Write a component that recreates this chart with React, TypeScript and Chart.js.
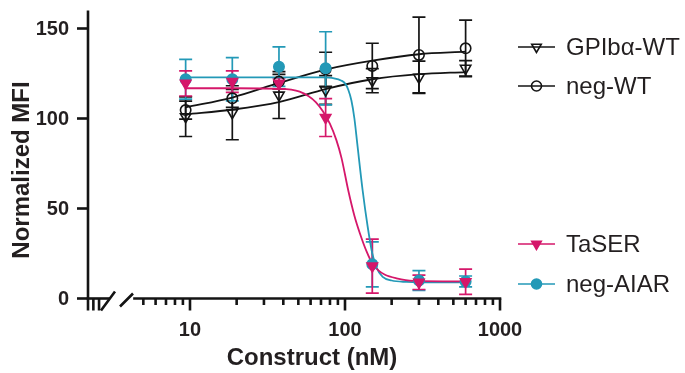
import { useEffect, useRef } from "react";
import { Chart, registerables } from "chart.js";

Chart.register(...registerables);

// ---- data ----
const concentrations = [9.375, 18.75, 37.5, 75, 150, 300, 600];
const seriesNames = ["GPIbα-WT", "neg-WT", "TaSER", "neg-AIAR"];

const gpibaMean = [101, 103.2, 113, 115.8, 121, 122.9, 127.9];
const gpibaSD = [11, 15, 13, 8, 6.7, 9, 4.3];
const negWTMean = [104.7, 111.2, 120.5, 127.3, 129.2, 135.3, 139];
const negWTSD = [5, 5, 4, 9.5, 12.6, 21, 15.7];
const taserMean = [119.5, 120.5, 119.5, 100.5, 18, 9, 9.3];
const taserSD = [7, 6, 3, 10.5, 15, 4, 7];
const aiarMean = [121.8, 121.8, 128.8, 127.9, 19, 10, 9.5];
const aiarSD = [11, 12, 11, 20.3, 12.5, 5.5, 3];

// fitted curves
const gpibaCurveX = [9.375, 19, 38, 76, 150, 300, 600];
const gpibaCurveY = [102.3, 105, 109.3, 116.5, 121.8, 124.6, 125.8];
const negWTCurveX = [9.375, 19, 38, 76, 150, 300, 600];
const negWTCurveY = [106.2, 111.8, 119.9, 127.3, 132.1, 135.7, 137.1];
const taserCurveX = [9.375, 20, 38, 45, 51, 58, 65, 72, 80, 88, 95, 105, 115, 125, 138, 150, 165, 180, 215, 275, 600];
const taserCurveY = [116.8, 116.8, 116.5, 116, 114.9, 112.5, 109, 104, 97, 88, 78, 60, 46, 36, 26, 19.5, 15.5, 13.3, 11.2, 9.8, 9.5];
const aiarCurveX = [9.375, 20, 40, 70, 85, 95, 100, 105, 110, 115, 120, 130, 140, 150, 160, 175, 200, 250, 300, 600];
const aiarCurveY = [122.9, 122.9, 122.9, 122.8, 122.3, 121, 119.5, 116, 110, 100, 86, 60, 40, 25, 17, 12, 10, 9.2, 9, 9];

// axis ticks
const yTicks = [0, 50, 100, 150];
const xMajorTicks = [10, 100, 1000];
const xMinorTicks = [5, 6, 7, 8, 9, 20, 30, 40, 50, 60, 70, 80, 90, 200, 300, 400, 500, 600, 700, 800, 900];
const xBreakTicks = [2.198, 2.38, 2.59];
const xMin = 2.198;
const xMax = 1000;
const yMin = 0;
const yMax = 160;

const BLACK = "#141414";
const PINK = "#D5176A";
const CYAN = "#2399B7";
const TEXT = "#231F20";
const FONT = '"Liberation Sans", Arial, Helvetica, sans-serif';

const toXY = (xs: number[], ys: number[]) => xs.map((x, i) => ({ x, y: ys[i] }));

type Series = { name: string; mean: number[]; sd: number[]; color: string; style: "triangle" | "circle"; filled: boolean };
const seriesList: Series[] = [
  { name: seriesNames[0], mean: gpibaMean, sd: gpibaSD, color: BLACK, style: "triangle", filled: false },
  { name: seriesNames[1], mean: negWTMean, sd: negWTSD, color: BLACK, style: "circle", filled: false },
  { name: seriesNames[2], mean: taserMean, sd: taserSD, color: PINK, style: "triangle", filled: true },
  { name: seriesNames[3], mean: aiarMean, sd: aiarSD, color: CYAN, style: "circle", filled: true },
];

function drawMarker(ctx: CanvasRenderingContext2D, s: Series, x: number, y: number) {
  ctx.save();
  ctx.beginPath();
  if (s.style === "triangle") {
    const r = 5.5;
    ctx.moveTo(x, y + r);
    ctx.lineTo(x - r * 0.866, y - r * 0.5);
    ctx.lineTo(x + r * 0.866, y - r * 0.5);
    ctx.closePath();
  } else {
    ctx.arc(x, y, 5, 0, Math.PI * 2);
  }
  ctx.lineWidth = 1.6;
  ctx.strokeStyle = s.color;
  if (s.filled) {
    ctx.fillStyle = s.color;
    ctx.fill();
  }
  ctx.stroke();
  ctx.restore();
}

const prismPlugin = {
  id: "prismAxes",
  beforeDatasetsDraw(chart: any) {
    const ctx: CanvasRenderingContext2D = chart.ctx;
    const xs = chart.scales.x;
    const ys = chart.scales.y;
    ctx.save();
    ctx.lineWidth = 1.7;
    const order = [0, 1, 3, 2];
    for (const k of order) {
      const s = seriesList[k];
      ctx.strokeStyle = s.color;
      concentrations.forEach((c, i) => {
        const px = xs.getPixelForValue(c);
        const top = ys.getPixelForValue(s.mean[i] + s.sd[i]);
        const bot = ys.getPixelForValue(s.mean[i] - s.sd[i]);
        ctx.beginPath();
        ctx.moveTo(px, top);
        ctx.lineTo(px, bot);
        ctx.moveTo(px - 6.5, top);
        ctx.lineTo(px + 6.5, top);
        ctx.moveTo(px - 6.5, bot);
        ctx.lineTo(px + 6.5, bot);
        ctx.stroke();
      });
    }
    ctx.restore();
  },
  afterDraw(chart: any) {
    const ctx: CanvasRenderingContext2D = chart.ctx;
    const xs = chart.scales.x;
    const ys = chart.scales.y;
    const area = chart.chartArea;
    const left = area.left;
    const bottom = area.bottom;
    ctx.save();
    ctx.strokeStyle = BLACK;
    ctx.lineWidth = 2.6;
    ctx.lineCap = "butt";

    // y axis line
    ctx.beginPath();
    ctx.moveTo(left, area.top);
    ctx.lineTo(left, bottom);
    ctx.stroke();
    // y ticks
    yTicks.forEach((t) => {
      const py = ys.getPixelForValue(t);
      ctx.beginPath();
      ctx.moveTo(left - 11, py);
      ctx.lineTo(left, py);
      ctx.stroke();
    });
    // x axis: left segment
    ctx.beginPath();
    ctx.moveTo(left - 1.3, bottom);
    ctx.lineTo(left + 22, bottom);
    ctx.stroke();
    xBreakTicks.forEach((t) => {
      const px = xs.getPixelForValue(t);
      ctx.beginPath();
      ctx.moveTo(px, bottom);
      ctx.lineTo(px, bottom + 12);
      ctx.stroke();
    });
    // break slashes
    ctx.beginPath();
    ctx.moveTo(left + 13, bottom + 12);
    ctx.lineTo(left + 27, bottom - 7);
    ctx.moveTo(left + 32, bottom + 8);
    ctx.lineTo(left + 45, bottom - 5);
    ctx.stroke();
    // main segment
    const mainStart = xs.getPixelForValue(4.3);
    ctx.beginPath();
    ctx.moveTo(mainStart, bottom);
    ctx.lineTo(area.right + 1.3, bottom);
    ctx.stroke();
    xMinorTicks.forEach((t) => {
      const px = xs.getPixelForValue(t);
      ctx.beginPath();
      ctx.moveTo(px, bottom);
      ctx.lineTo(px, bottom + 6.5);
      ctx.stroke();
    });
    xMajorTicks.forEach((t) => {
      const px = xs.getPixelForValue(t);
      ctx.beginPath();
      ctx.moveTo(px, bottom);
      ctx.lineTo(px, bottom + 12);
      ctx.stroke();
    });

    // tick labels
    ctx.fillStyle = TEXT;
    ctx.font = `bold 20px ${FONT}`;
    ctx.textAlign = "right";
    ctx.textBaseline = "middle";
    yTicks.forEach((t) => {
      ctx.fillText(String(t), left - 19, ys.getPixelForValue(t) + 1);
    });
    ctx.textAlign = "center";
    xMajorTicks.forEach((t) => {
      ctx.fillText(String(t), xs.getPixelForValue(t), bottom + 32);
    });

    // titles
    ctx.font = `bold 24px ${FONT}`;
    ctx.fillText("Construct (nM)", 312, 358);
    ctx.save();
    ctx.translate(22, 170);
    ctx.rotate(-Math.PI / 2);
    ctx.fillText("Normalized MFI", 0, 0);
    ctx.restore();

    // legend
    const legendY = [47, 86, 244, 284];
    ctx.font = `24px ${FONT}`;
    ctx.textAlign = "left";
    seriesList.forEach((s, i) => {
      const y = legendY[i];
      ctx.strokeStyle = s.color;
      ctx.lineWidth = 1.7;
      ctx.beginPath();
      ctx.moveTo(518, y);
      ctx.lineTo(555, y);
      ctx.stroke();
      drawMarker(ctx, s, 536.5, y);
      ctx.fillStyle = TEXT;
      ctx.fillText(s.name, 566, y + 1);
    });
    ctx.restore();
  },
};

export default function App() {
  const ref = useRef<HTMLCanvasElement | null>(null);
  useEffect(() => {
    if (!ref.current) return;
    const pointDs = (s: Series, order: number) => ({
      label: s.name,
      data: toXY(concentrations, s.mean),
      showLine: false,
      pointStyle: s.style,
      rotation: s.style === "triangle" ? 180 : 0,
      pointRadius: s.style === "triangle" ? 6 : 5.2,
      pointBorderWidth: 1.6,
      pointBorderColor: s.color,
      pointBackgroundColor: s.filled ? s.color : "rgba(255,255,255,0)",
      borderColor: s.color,
      order,
      clip: false,
    });
    const curveDs = (label: string, xsArr: number[], ysArr: number[], color: string, order: number) => ({
      label,
      data: toXY(xsArr, ysArr),
      showLine: true,
      pointRadius: 0,
      borderColor: color,
      borderWidth: 1.8,
      cubicInterpolationMode: "monotone",
      fill: false,
      order,
      clip: false,
    });
    const chart = new Chart(ref.current, {
      type: "scatter",
      data: {
        datasets: [
          pointDs(seriesList[2], 0),
          pointDs(seriesList[3], 1),
          pointDs(seriesList[0], 2),
          pointDs(seriesList[1], 3),
          curveDs("TaSER fit", taserCurveX, taserCurveY, PINK, 4),
          curveDs("neg-AIAR fit", aiarCurveX, aiarCurveY, CYAN, 5),
          curveDs("GPIbα-WT fit", gpibaCurveX, gpibaCurveY, BLACK, 6),
          curveDs("neg-WT fit", negWTCurveX, negWTCurveY, BLACK, 7),
        ] as any,
      },
      options: {
        responsive: false,
        animation: false,
        maintainAspectRatio: false,
        layout: { padding: { left: 88, right: 185, top: 10.5, bottom: 74.5 } },
        plugins: { legend: { display: false }, tooltip: { enabled: false } },
        scales: {
          x: { type: "logarithmic", min: xMin, max: xMax, display: false },
          y: { type: "linear", min: yMin, max: yMax, display: false },
        },
      },
      plugins: [prismPlugin],
    });
    return () => chart.destroy();
  }, []);
  return (
    <div style={{ position: "fixed", left: 0, top: 0, width: 685, height: 373, background: "#fff" }}>
      <canvas ref={ref} width={685} height={373} style={{ width: 685, height: 373, display: "block" }} />
    </div>
  );
}
